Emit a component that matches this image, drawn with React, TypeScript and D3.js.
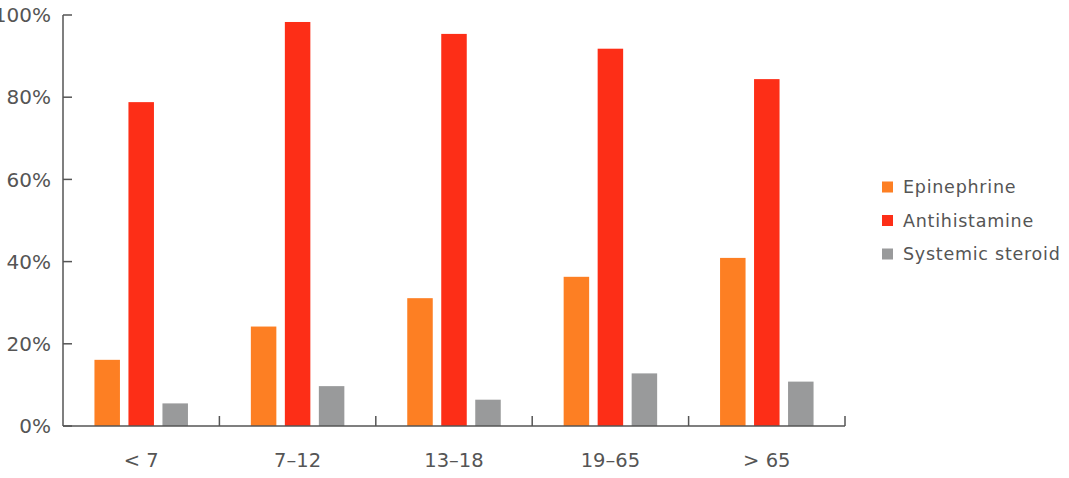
import { useEffect, useRef } from "react";
import * as d3 from "d3";

const categories = ["< 7", "7–12", "13–18", "19–65", "> 65"];
const epinephrine = [16.1, 24.2, 31.1, 36.3, 40.9];
const antihistamine = [78.8, 98.3, 95.4, 91.8, 84.4];
const steroid = [5.5, 9.7, 6.4, 12.8, 10.8];
const yTicks = [0, 20, 40, 60, 80, 100];

const SERIES = [
  { label: "Epinephrine", color: "#fd7f23", values: epinephrine },
  { label: "Antihistamine", color: "#fd2e17", values: antihistamine },
  { label: "Systemic steroid", color: "#999a9b", values: steroid },
];

const FONT = "'DejaVu Sans', sans-serif";
const TEXT = "#555555";

export default function App() {
  const svgRef = useRef<SVGSVGElement>(null);

  useEffect(() => {
    if (!svgRef.current) return;
    const width = 1069;
    const height = 478;
    const left = 63;
    const right = 845;
    const top = 15;
    const bottom = 426;

    const svg = d3.select(svgRef.current);
    svg.selectAll("*").remove();

    const x = d3.scaleBand<string>().domain(categories).range([left, right]);
    const y = d3.scaleLinear().domain([0, 100]).range([bottom, top]);
    const barW = 25.5;
    const step = 34;

    const g = svg.append("g");

    SERIES.forEach((s, si) => {
      g.selectAll(null)
        .data(s.values)
        .enter()
        .append("rect")
        .attr("x", (_, i) => x(categories[i])! + x.bandwidth() / 2 + (si - 1) * step - barW / 2)
        .attr("y", (d) => y(d))
        .attr("width", barW)
        .attr("height", (d) => y(0) - y(d))
        .attr("fill", s.color);
    });

    // y axis, ticks point inward
    g.append("line")
      .attr("x1", left).attr("x2", left)
      .attr("y1", top).attr("y2", bottom)
      .attr("stroke", TEXT).attr("stroke-width", 1.5);
    yTicks.forEach((t) => {
      g.append("line")
        .attr("x1", left).attr("x2", left + 9)
        .attr("y1", y(t)).attr("y2", y(t))
        .attr("stroke", TEXT).attr("stroke-width", 1.5);
      g.append("text")
        .attr("x", 51)
        .attr("y", y(t))
        .attr("dy", "0.36em")
        .attr("text-anchor", "end")
        .attr("fill", TEXT)
        .attr("font-family", FONT)
        .attr("font-size", 20)
        .text(`${t}%`);
    });

    // x axis with separators between groups
    g.append("line")
      .attr("x1", left).attr("x2", right)
      .attr("y1", bottom).attr("y2", bottom)
      .attr("stroke", TEXT).attr("stroke-width", 1.5);
    categories.forEach((c) => {
      const xb = x(c)! + x.bandwidth();
      g.append("line")
        .attr("x1", xb).attr("x2", xb)
        .attr("y1", bottom).attr("y2", bottom - 10)
        .attr("stroke", TEXT).attr("stroke-width", 1.5);
      g.append("text")
        .attr("x", x(c)! + x.bandwidth() / 2)
        .attr("y", 460)
        .attr("dy", "0.36em")
        .attr("text-anchor", "middle")
        .attr("fill", TEXT)
        .attr("font-family", FONT)
        .attr("font-size", 19.5)
        .text(c);
    });

    // legend
    SERIES.forEach((s, i) => {
      const cy = 187 + i * 33.5;
      g.append("rect")
        .attr("x", 882).attr("y", cy - 5.5)
        .attr("width", 11).attr("height", 11)
        .attr("fill", s.color);
      g.append("text")
        .attr("x", 903).attr("y", cy)
        .attr("dy", "0.36em")
        .attr("fill", TEXT)
        .attr("font-family", FONT)
        .attr("font-size", 17.5)
        .attr("letter-spacing", 0.75)
        .text(s.label);
    });

    svg.attr("width", width).attr("height", height);
  }, []);

  return (
    <div style={{ position: "fixed", left: 0, top: 0, background: "#fff" }}>
      <svg ref={svgRef} style={{ display: "block", overflow: "hidden" }} />
    </div>
  );
}
